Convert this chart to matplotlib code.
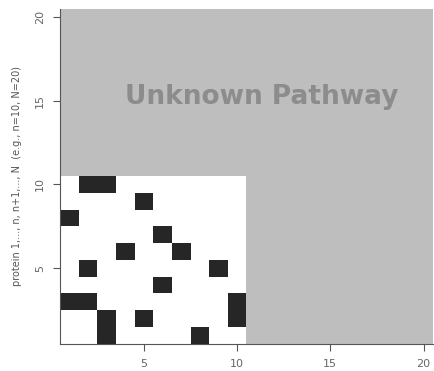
import numpy as np
import matplotlib
matplotlib.use("Agg")
import matplotlib.pyplot as plt
from matplotlib.colors import ListedColormap

# sizes of the full and known protein sets
N = 20
n = 10

# black cells in the known n x n block (x, y), 1-based
known_x = [2, 3, 5, 1, 6, 4, 7, 2, 9, 6, 1, 2, 10, 10, 3, 3, 5, 8]
known_y = [10, 10, 9, 8, 7, 6, 6, 5, 5, 4, 3, 3, 3, 2, 2, 1, 2, 1]

ticks = [5, 10, 15, 20]
label_text = "Unknown Pathway"
ylab = "protein 1,..., n, n+1,..., N  (e.g., n=10, N=20)"

# 0 = unknown (gray), 1 = no link (white), 2 = link (black)
mat = np.zeros((N, N))
mat[:n, :n] = 1
for x, y in zip(known_x, known_y):
    mat[y - 1, x - 1] = 2

cmap = ListedColormap(["#bebebe", "#ffffff", "#262626"])

fig = plt.figure(figsize=(4.35, 3.71), dpi=100)
ax = fig.add_axes([0.138, 0.074, 0.857, 0.903])
edges = np.arange(0.5, N + 1)
ax.pcolormesh(edges, edges, mat, cmap=cmap, vmin=-0.5, vmax=2.5)

ax.text(11.3, 15.2, label_text, color="#8c8c8c", fontsize=19,
        fontweight="bold", ha="center", va="center")

ax.set_xlim(0.5, N + 0.5)
ax.set_ylim(0.5, N + 0.5)
ax.set_xticks(ticks)
ax.set_yticks(ticks)
ax.set_yticklabels([str(t) for t in ticks], rotation=90, va="center")
ax.tick_params(length=5, color="#555555", labelcolor="#666666", labelsize=8,
               pad=6)
ax.set_ylabel(ylab, color="#555555", fontsize=7, labelpad=9)
for s in ["top", "right"]:
    ax.spines[s].set_visible(False)
for s in ["left", "bottom"]:
    ax.spines[s].set_color("#555555")

fig.savefig("out.png", dpi=100)
